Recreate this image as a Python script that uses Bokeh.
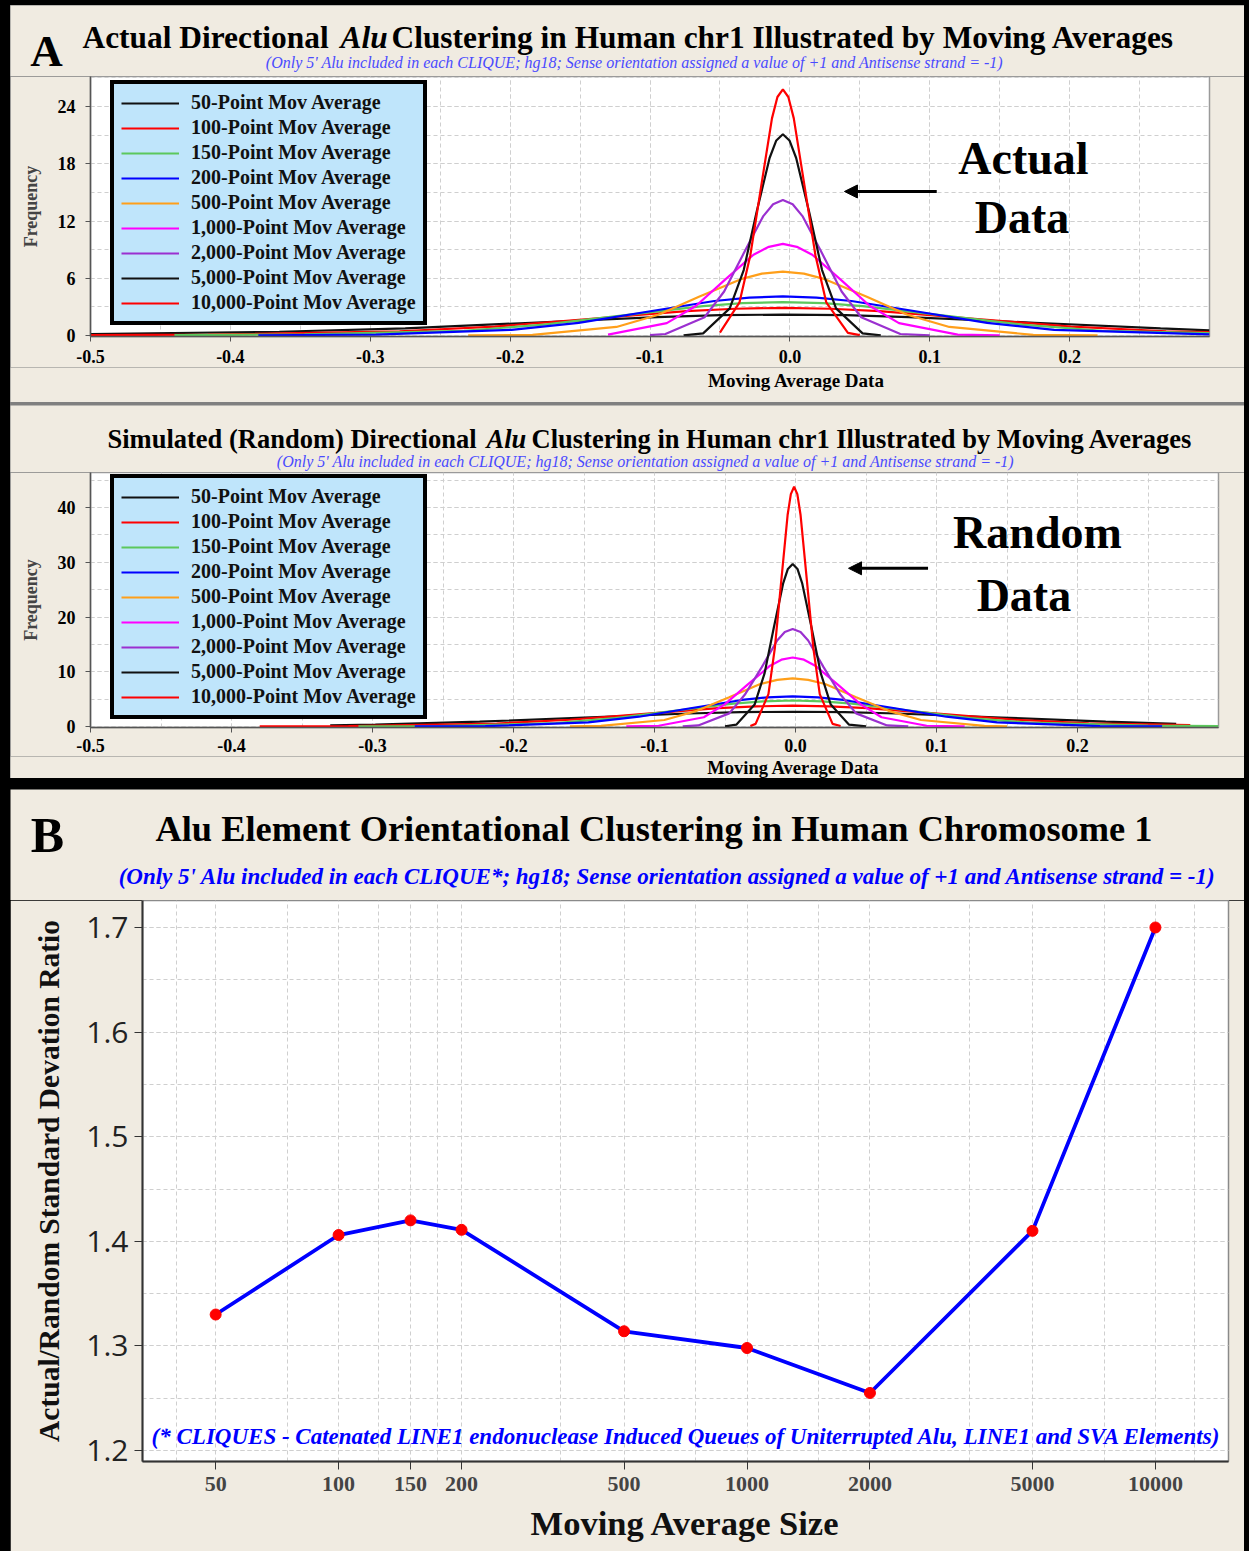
from bokeh.plotting import figure
from bokeh.models import (Range1d, Legend, LegendItem, Label, Arrow, NormalHead,
                          SingleIntervalTicker, FixedTicker, CustomJSTickFormatter)
from bokeh.layouts import column
from bokeh.embed import file_html
from bokeh.resources import INLINE

# ---------------------------------------------------------------- data
series_labels = ["50-Point Mov Average", "100-Point Mov Average", "150-Point Mov Average",
                 "200-Point Mov Average", "500-Point Mov Average", "1,000-Point Mov Average",
                 "2,000-Point Mov Average", "5,000-Point Mov Average", "10,000-Point Mov Average"]
series_colors = ["#111111", "#ff0000", "#5cc85c", "#0000ff", "#ff9f1a",
                 "#ff00ff", "#9b30d0", "#111111", "#ff0000"]

# Panel A (top): actual data -- frequency curves
x50a = [-0.5, -0.365, -0.275, -0.185, -0.095, -0.05, -0.005, 0.04, 0.085, 0.175, 0.265, 0.3]
y50a = [0.15, 0.4, 0.75, 1.34, 1.94, 2.13, 2.2, 2.13, 1.94, 1.34, 0.75, 0.55]
x100a = [-0.5, -0.416, -0.279, -0.211, -0.142, -0.074, -0.039, -0.005, 0.029, 0.064, 0.132, 0.201, 0.269, 0.3]
y100a = [0.05, 0.1, 0.45, 0.94, 1.76, 2.56, 2.81, 2.9, 2.81, 2.56, 1.76, 0.94, 0.45, 0.35]
x150a = [-0.44, -0.347, -0.233, -0.176, -0.119, -0.062, -0.034, -0.005, 0.024, 0.052, 0.109, 0.166, 0.223, 0.3]
y150a = [0.05, 0.12, 0.5, 1.14, 2.12, 3.09, 3.39, 3.5, 3.39, 3.09, 2.12, 1.14, 0.5, 0.25]
x200a = [-0.38, -0.296, -0.199, -0.151, -0.102, -0.054, -0.029, -0.005, 0.019, 0.044, 0.092, 0.141, 0.189, 0.3]
y200a = [0.03, 0.1, 0.6, 1.33, 2.49, 3.62, 3.97, 4.1, 3.97, 3.62, 2.49, 1.33, 0.6, 0.12]
x500a = [-0.23, -0.184, -0.124, -0.094, -0.065, -0.035, -0.02, -0.005, 0.01, 0.025, 0.055, 0.084, 0.114, 0.174, 0.22]
y500a = [0.01, 0.07, 0.9, 2.18, 4.07, 5.91, 6.49, 6.7, 6.49, 5.91, 4.07, 2.18, 0.9, 0.07, 0.01]
x1000a = [-0.13, -0.088, -0.067, -0.0465, -0.026, -0.015, -0.005, 0.005, 0.016, 0.0365, 0.057, 0.078, 0.12, 0.15]
y1000a = [0.1, 1.3, 3.12, 5.83, 8.47, 9.3, 9.6, 9.3, 8.47, 5.83, 3.12, 1.3, 0.1, 0.01]
x2000a = [-0.1, -0.089, -0.061, -0.047, -0.033, -0.019, -0.012, -0.005, 0.002, 0.009, 0.023, 0.037, 0.051, 0.079, 0.1]
y2000a = [0.05, 0.16, 1.92, 4.62, 8.62, 12.52, 13.76, 14.2, 13.76, 12.52, 8.62, 4.62, 1.92, 0.16, 0.02]
x5000a = [-0.076, -0.062, -0.043, -0.033, -0.024, -0.0145, -0.0097, -0.005, -0.0003, 0.0045, 0.014, 0.023, 0.033, 0.052, 0.065]
y5000a = [0.02, 0.23, 2.85, 6.86, 12.81, 18.61, 20.45, 21.1, 20.45, 18.61, 12.81, 6.86, 2.85, 0.23, 0.02]
x10000a = [-0.05, -0.036, -0.0283, -0.0205, -0.0128, -0.0089, -0.005, -0.0011, 0.0028, 0.0105, 0.0183, 0.026, 0.0415, 0.05]
y10000a = [0.3, 3.48, 8.39, 15.66, 22.76, 25.0, 25.8, 25.0, 22.76, 15.66, 8.39, 3.48, 0.28, 0.05]

# Panel A (bottom): simulated (random) data -- frequency curves
x50b = [-0.33, -0.298, -0.224, -0.15, -0.076, -0.039, -0.002, 0.035, 0.072, 0.146, 0.22, 0.27]
y50b = [0.23, 0.36, 0.88, 1.64, 2.38, 2.62, 2.7, 2.62, 2.38, 1.64, 0.88, 0.5]
x100b = [-0.38, -0.317, -0.212, -0.16, -0.107, -0.055, -0.028, -0.002, 0.024, 0.051, 0.103, 0.156, 0.208, 0.28]
y100b = [0.02, 0.06, 0.55, 1.24, 2.31, 3.35, 3.68, 3.8, 3.68, 3.35, 2.31, 1.24, 0.6, 0.25]
x150b = [-0.31, -0.254, -0.17, -0.128, -0.086, -0.044, -0.023, -0.002, 0.019, 0.04, 0.082, 0.124, 0.166, 0.25, 0.3]
y150b = [0.02, 0.06, 0.64, 1.54, 2.88, 4.19, 4.6, 4.75, 4.6, 4.19, 2.88, 1.54, 0.7, 0.15, 0.08]
x200b = [-0.27, -0.22, -0.147, -0.111, -0.0745, -0.038, -0.02, -0.002, 0.016, 0.034, 0.0705, 0.107, 0.143, 0.216, 0.26]
y200b = [0.01, 0.06, 0.74, 1.79, 3.34, 4.85, 5.33, 5.5, 5.33, 4.85, 3.34, 1.79, 0.74, 0.08, 0.02]
x500b = [-0.16, -0.138, -0.093, -0.07, -0.047, -0.025, -0.013, -0.002, 0.009, 0.021, 0.043, 0.066, 0.089, 0.134, 0.15]
y500b = [0.02, 0.1, 1.19, 2.86, 5.34, 7.76, 8.53, 8.8, 8.53, 7.76, 5.34, 2.86, 1.19, 0.1, 0.02]
x1000b = [-0.12, -0.097, -0.065, -0.05, -0.034, -0.018, -0.01, -0.002, 0.006, 0.014, 0.03, 0.046, 0.061, 0.093, 0.12]
y1000b = [0.01, 0.14, 1.7, 4.1, 7.65, 11.11, 12.21, 12.6, 12.21, 11.11, 7.65, 4.1, 1.7, 0.14, 0.01]
x2000b = [-0.08, -0.069, -0.047, -0.036, -0.024, -0.013, -0.0076, -0.002, 0.0036, 0.009, 0.02, 0.032, 0.043, 0.065, 0.08]
y2000b = [0.03, 0.2, 2.4, 5.79, 10.8, 15.7, 17.25, 17.8, 17.25, 15.7, 10.8, 5.79, 2.4, 0.2, 0.03]
x5000b = [-0.05, -0.042, -0.029, -0.022, -0.0154, -0.0087, -0.0054, -0.002, 0.0014, 0.0047, 0.0114, 0.018, 0.025, 0.038, 0.05]
y5000b = [0.03, 0.33, 4.01, 9.65, 18.03, 26.2, 28.78, 29.7, 28.78, 26.2, 18.03, 9.65, 4.01, 0.33, 0.03]
x10000b = [-0.032, -0.0283, -0.0192, -0.0147, -0.0101, -0.0056, -0.0033, -0.001, 0.0013, 0.0036, 0.0081, 0.0127, 0.0172, 0.0263, 0.032]
y10000b = [0.1, 0.48, 5.91, 14.24, 26.59, 38.63, 42.44, 43.8, 42.44, 38.63, 26.59, 14.24, 5.91, 0.48, 0.1]

# Panel B: actual/random standard deviation ratio
b_sizes = [50, 100, 150, 200, 500, 1000, 2000, 5000, 10000]
b_ratio = [1.330, 1.406, 1.420, 1.411, 1.314, 1.298, 1.255, 1.410, 1.700]
b_tick_labels = [50, 100, 150, 200, 500, 1000, 2000, 5000, 10000]
b_minor_grid = [40, 75, 125, 175, 350, 750, 1500, 3500, 7500, 12500]

actual_xs = [x50a, x100a, x150a, x200a, x500a, x1000a, x2000a, x5000a, x10000a]
actual_ys = [y50a, y100a, y150a, y200a, y500a, y1000a, y2000a, y5000a, y10000a]
random_xs = [x50b, x100b, x150b, x200b, x500b, x1000b, x2000b, x5000b, x10000b]
random_ys = [y50b, y100b, y150b, y200b, y500b, y1000b, y2000b, y5000b, y10000b]

# ---------------------------------------------------------------- style
W = 1234
BEIGE = "#f0ebe1"
LEGEND_BG = "#bfe5fb"
GRID = "#cfcfcf"
SERIF = "Liberation Serif"
SUB_A = "(Only 5' Alu included in each CLIQUE; hg18; Sense orientation assigned a value of +1 and Antisense strand = -1)"
SUB_B = "(Only 5' Alu included in each CLIQUE*; hg18; Sense orientation assigned a value of +1 and Antisense strand = -1)"
FOOT_B = "(* CLIQUES - Catenated LINE1 endonuclease Induced Queues of Uniterrupted Alu, LINE1 and SVA Elements)"


def text_strip(height):
    """A plain beige strip whose frame fills it, used for texts outside the plot frames."""
    h = figure(width=W, height=height, x_range=Range1d(0, W), y_range=Range1d(0, height),
               output_backend="svg", toolbar_location=None, title=None, min_border=0,
               x_axis_location=None, y_axis_location=None, frame_align=False,
               background_fill_color=BEIGE, border_fill_color=BEIGE, outline_line_color=None)
    h.xgrid.visible = False
    h.ygrid.visible = False
    return h


def put(p, x, y, text, size, style="bold", color="black", align="left", font=SERIF):
    p.add_layout(Label(x=x, y=y, text=text, text_font=font, text_font_style=style,
                       text_font_size=size, text_color=color, text_align=align,
                       text_baseline="middle"))


def dist_plot(height, mb_bottom, mb_right, y_lo, y_hi, y_step, xs_list, ys_list,
              word1, word2, arrow, legend_loc, x_standoff):
    p = figure(width=W, height=height, x_range=Range1d(-0.5, 0.3), y_range=Range1d(y_lo, y_hi),
               output_backend="svg", toolbar_location=None, title=None, frame_align=False,
               min_border_left=80, min_border_right=mb_right,
               min_border_top=0, min_border_bottom=mb_bottom,
               background_fill_color="white", border_fill_color=BEIGE,
               outline_line_color="#9a9a9a", outline_line_width=1.5)
    p.xaxis.ticker = SingleIntervalTicker(interval=0.1, num_minor_ticks=2)
    p.xaxis.formatter = CustomJSTickFormatter(code="return tick.toFixed(1)")
    p.yaxis.ticker = SingleIntervalTicker(interval=y_step, num_minor_ticks=2)
    for g in (p.xgrid, p.ygrid):
        g.grid_line_color = GRID
        g.grid_line_dash = "4 3"
        g.minor_grid_line_color = GRID
        g.minor_grid_line_dash = "4 3"
    for ax in (p.xaxis, p.yaxis):
        ax.axis_line_color = "#555555"
        ax.axis_line_width = 1.5
        ax.major_tick_line_color = "#555555"
        ax.major_tick_out = 5
        ax.major_tick_in = 0
        ax.minor_tick_line_color = None
        ax.major_label_text_font = SERIF
        ax.major_label_text_font_style = "bold"
        ax.major_label_text_font_size = "18px"
        ax.major_label_text_color = "black"
    p.xaxis.major_label_standoff = x_standoff
    p.yaxis.major_label_standoff = 10
    p.yaxis.axis_label = "Frequency"
    p.yaxis.axis_label_text_font = SERIF
    p.yaxis.axis_label_text_font_style = "bold"
    p.yaxis.axis_label_text_font_size = "18px"
    p.yaxis.axis_label_standoff = 14

    legend_items = []
    for xs, ys, col, lab in zip(xs_list, ys_list, series_colors, series_labels):
        r = p.line(xs, ys, line_color=col, line_width=2.2)
        legend_items.append(LegendItem(label=lab, renderers=[r]))

    legend = Legend(items=legend_items, location=legend_loc,
                    border_line_color="black", border_line_width=4, border_line_alpha=1.0,
                    background_fill_color=LEGEND_BG, background_fill_alpha=1.0,
                    label_text_font=SERIF, label_text_font_style="bold",
                    label_text_font_size="20px", label_text_color="#111111",
                    glyph_width=58, glyph_height=20, label_height=20,
                    spacing=2, padding=7, margin=0, label_standoff=12)
    p.add_layout(legend)

    for (wx, wy, wt) in (word1, word2):
        put(p, wx, wy, wt, "46px", align="center")
    ax0, ax1, ay = arrow
    p.add_layout(Arrow(end=NormalHead(size=13, fill_color="black", line_color="black"),
                       x_start=ax0, y_start=ay, x_end=ax1, y_end=ay,
                       line_color="black", line_width=3))
    return p


# ---------------- Panel A, top (actual)
hA1 = text_strip(71)
put(hA1, 72, 39, "Actual Directional", "31.4px")
put(hA1, 330, 39, "Alu", "31.4px", style="bold italic")
put(hA1, 381, 39, "Clustering in Human chr1 Illustrated by Moving Averages", "31.4px")
put(hA1, 624, 14, SUB_A, "16px", style="italic", color="#4a4aff", align="center")
put(hA1, 36, 26, "A", "45px", align="center")

pA1 = dist_plot(291, 31, 35, -0.1, 27.15, 6, actual_xs, actual_ys,
                (0.167, 18.55, "Actual"), (0.166, 12.4, "Data"), (0.105, 0.039, 15.1),
                (20, 11), 8)

fA1 = text_strip(35)
put(fA1, 786, 22, "Moving Average Data", "19px", align="center")

# ---------------- Panel A, bottom (random)
hA2 = text_strip(67)
put(hA2, 97, 34, "Simulated (Random) Directional", "26.5px")
put(hA2, 476, 34, "Alu", "26.5px", style="bold italic")
put(hA2, 521, 34, "Clustering in Human chr1 Illustrated by Moving Averages", "26.5px")
put(hA2, 635, 11, SUB_A, "16px", style="italic", color="#4a4aff", align="center")

pA2 = dist_plot(284, 29, 26, -0.18, 46.4, 10, random_xs, random_ys,
                (0.1716, 35.4, "Random"), (0.162, 23.9, "Data"), (0.094, 0.0376, 28.9),
                (20, 8), 6)

fA2 = text_strip(22)
put(fA2, 783, 11, "Moving Average Data", "18.5px", align="center")

# ---------------- Panel B
hB = text_strip(111)
put(hB, 37, 66, "B", "50px", align="center")
put(hB, 643.5, 72, "Alu Element Orientational Clustering in Human Chromosome 1", "36.4px",
    align="center")
put(hB, 657, 24, SUB_B, "23px", style="bold italic", color="#0000ff", align="center")

pB = figure(width=W, height=651, x_axis_type="log",
            x_range=Range1d(33.1, 15100), y_range=Range1d(1.1895, 1.7258),
            output_backend="svg", toolbar_location=None, title=None, frame_align=False,
            min_border_left=132, min_border_right=16, min_border_top=0, min_border_bottom=90,
            background_fill_color="white", border_fill_color=BEIGE,
            outline_line_color="#8a8a8a", outline_line_width=1.5)
pB.xaxis.ticker = FixedTicker(ticks=b_tick_labels, minor_ticks=b_minor_grid)
pB.xaxis.formatter = CustomJSTickFormatter(code="return tick.toFixed(0)")
pB.yaxis.ticker = SingleIntervalTicker(interval=0.1, num_minor_ticks=2)
for g in (pB.xgrid, pB.ygrid):
    g.grid_line_color = GRID
    g.grid_line_dash = "4 3"
    g.minor_grid_line_color = GRID
    g.minor_grid_line_dash = "4 3"
for ax in (pB.xaxis, pB.yaxis):
    ax.axis_line_color = "#333333"
    ax.axis_line_width = 2
    ax.major_tick_line_color = "#333333"
    ax.major_tick_out = 8
    ax.major_tick_in = 0
    ax.minor_tick_line_color = None
    ax.axis_label_text_font = SERIF
    ax.axis_label_text_font_style = "bold"
    ax.axis_label_text_color = "#111111"
pB.xaxis.major_label_text_font = SERIF
pB.xaxis.major_label_text_font_style = "bold"
pB.xaxis.major_label_text_font_size = "22px"
pB.xaxis.major_label_standoff = 7
pB.xaxis.axis_label = "Moving Average Size"
pB.xaxis.axis_label_text_font_size = "34.5px"
pB.xaxis.axis_label_standoff = 10
pB.yaxis.major_label_text_font = "Open Sans"
pB.yaxis.major_label_text_font_size = "30px"
pB.yaxis.major_label_text_color = "#222222"
pB.yaxis.major_label_standoff = 6
pB.yaxis.axis_label = "Actual/Random Standard Devation Ratio"
pB.yaxis.axis_label_text_font_size = "29.5px"
pB.yaxis.axis_label_standoff = 18

pB.line(b_sizes, b_ratio, line_color="#0000ff", line_width=3.8)
pB.scatter(b_sizes, b_ratio, size=11, fill_color="#ff0000", line_color="#ff0000")
pB.add_layout(Label(x=711, y=1.2134, text=FOOT_B, text_font=SERIF, text_font_style="bold italic",
                    text_font_size="23px", text_color="#0000ff", text_align="center",
                    text_baseline="middle"))

# ---------------------------------------------------------------- layout
blockA1 = column(hA1, pA1, fA1, spacing=0)
blockA2 = column(hA2, pA2, fA2, spacing=0)
blockB = column(hB, pB, spacing=0)
colA = column(blockA1, blockA2, spacing=3, styles={"background-color": "#808080"})
root = column(colA, blockB, spacing=11,
              styles={"background-color": "black", "padding": "5px 5px 0px 10px"})

open("out.html", "w").write(file_html(root, INLINE))
